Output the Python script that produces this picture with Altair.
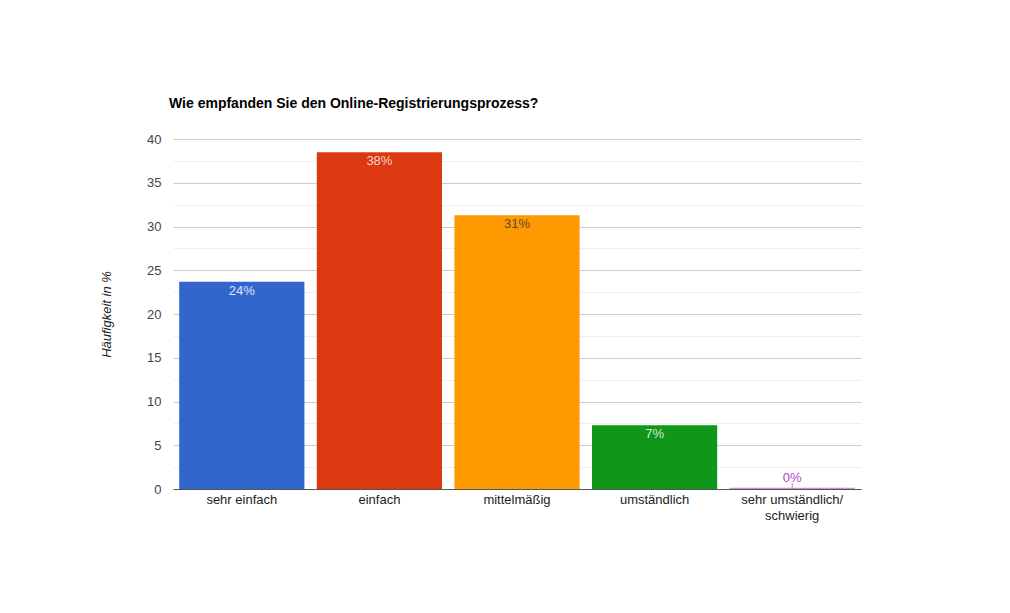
import altair as alt
import pandas as pd

categories = ["sehr einfach", "einfach", "mittelmäßig", "umständlich", "sehr umständlich/schwierig"]
values = [23.7, 38.5, 31.3, 7.3, 0.0]
labels = ["24%", "38%", "31%", "7%", "0%"]

bar_colors = ["#3366cc", "#dc3912", "#ff9900", "#109618", "#990099"]
text_colors = ["#dfe6f6", "#f7d3c7", "#5e4a2c", "#d2ead2", "#b53fc6"]

df = pd.DataFrame({"cat": categories, "value": values, "label": labels})

FONT = "Liberation Sans"

x = alt.X(
    "cat:N",
    sort=categories,
    title=None,
    scale=alt.Scale(paddingInner=0.09, paddingOuter=0.045),
    axis=alt.Axis(
        labelAngle=0,
        ticks=False,
        labelPadding=4,
        labelFontSize=13,
        labelFont=FONT,
        labelColor="#222222",
        labelLineHeight=16,
        domainColor="#555555",
        labelExpr="indexof(datum.label, '/') > 0 ? [slice(datum.label, 0, indexof(datum.label, '/') + 1), slice(datum.label, indexof(datum.label, '/') + 1)] : datum.label",
    ),
)

yticks = [i * 2.5 for i in range(17)]

y = alt.Y(
    "value:Q",
    scale=alt.Scale(domain=[0, 40], nice=False),
    axis=alt.Axis(
        values=yticks,
        ticks=False,
        domain=False,
        labelPadding=12,
        labelFontSize=13,
        labelFont=FONT,
        labelColor="#444444",
        labelExpr="datum.value % 5 == 0 ? datum.label : ''",
        gridColor={"condition": {"test": "datum.value % 5 != 0", "value": "#efefef"}, "value": "#cccccc"},
        title="Häufigkeit in %",
        titleFont=FONT,
        titleFontSize=13,
        titleFontStyle="italic",
        titleFontWeight="normal",
        titleColor="#222222",
        titleX=-67,
        titleY=175,
        titleAngle=270,
        titleAlign="center",
        titleBaseline="middle",
    ),
)

color = alt.Color("cat:N", sort=categories, scale=alt.Scale(domain=categories, range=bar_colors), legend=None)
tcolor = alt.Color("cat:N", sort=categories, scale=alt.Scale(domain=categories, range=text_colors), legend=None)

base = alt.Chart(df)

bars = base.mark_bar().encode(x=x, y=y, color=color)

inside = base.transform_filter("datum.value > 0").mark_text(
    baseline="middle", dy=9, fontSize=13, font=FONT
).encode(x=x, y=y, text="label:N", color=tcolor)

above = base.transform_filter("datum.value == 0").mark_text(
    baseline="middle", dy=-11, fontSize=13, font=FONT
).encode(x=x, y=y, text="label:N", color=tcolor)

stem = base.transform_filter("datum.value == 0").mark_rule(color="#999999", strokeWidth=1).encode(
    x=x, y=y, y2=alt.value(344)
)

zero_line = base.transform_filter("datum.value == 0").mark_bar(opacity=0.45).encode(
    x=x, y=alt.value(348.8), y2=alt.value(350), color=color
)

chart = alt.layer(bars, zero_line, stem, inside, above).resolve_scale(color="independent").properties(
    width=688,
    height=350,
    title=alt.TitleParams(
        "Wie empfanden Sie den Online-Registrierungsprozess?",
        anchor="start",
        frame="group",
        font=FONT,
        fontSize=14,
        fontWeight="bold",
        color="#000000",
        offset=22,
        dx=-4,
    ),
    autosize=alt.AutoSizeParams(type="none"),
    padding={"left": 165, "top": 131, "right": 100, "bottom": 100},
).configure(background="white", view=alt.ViewConfig(stroke=None))

chart.save("out.html", embed_options={"renderer": "svg", "actions": False})
